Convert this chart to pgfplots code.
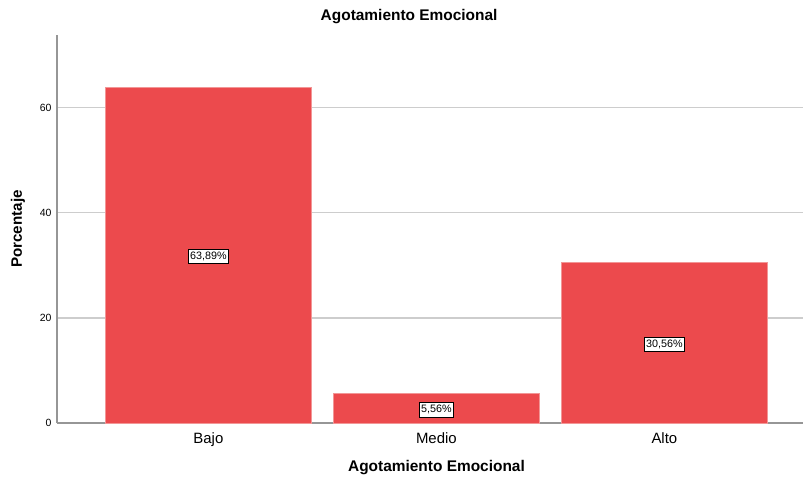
\documentclass[border=0pt]{standalone}
\usepackage{pgfplots}
\usepackage{pgfplotstable}
\pgfplotsset{compat=1.18}
\usepackage{fontspec}
\setmainfont{Liberation Sans}

\definecolor{barred}{RGB}{236,74,77}
\definecolor{baredge}{RGB}{242,150,150}
\definecolor{gridgray}{RGB}{205,205,205}
\definecolor{axisgray}{RGB}{150,150,150}

\pgfplotstableread{
x  y      lbl
0  63.89  {63,89\%}
1  5.56   {5,56\%}
2  30.56  {30,56\%}
}\agotamiento

\begin{document}
\begin{tikzpicture}
\begin{axis}[
  scale only axis,
  width=746bp, height=388bp,
  xmin=-0.664, xmax=2.608,
  ymin=0, ymax=73.8,
  axis x line*=bottom, axis y line*=left,
  axis line style={axisgray, line width=1.1bp, -},
  xtick={0,1,2}, xticklabels={Bajo,Medio,Alto},
  ytick={0,20,40,60},
  major tick length=0pt,
  ymajorgrids, grid style={gridgray, line width=1.3bp},
  xticklabel style={font=\fontsize{15}{18}\selectfont, yshift=-6bp},
  yticklabel style={font=\fontsize{10.5}{12}\selectfont, xshift=-2bp},
  /pgf/number format/assume math mode=true,
  title={Agotamiento Emocional},
  title style={font=\bfseries\fontsize{15.5}{18}\selectfont, at={(axis description cs:0.472,1.031)}, anchor=center},
  xlabel={Agotamiento Emocional},
  xlabel style={font=\bfseries\fontsize{15.5}{18}\selectfont, at={(axis description cs:0.5087,-0.116)}, anchor=center},
  ylabel={Porcentaje},
  ylabel style={font=\bfseries\fontsize{15.2}{18}\selectfont, at={(axis description cs:-0.0523,0.5)}, anchor=center},
]
\addplot[ybar, bar width=0.9, fill=barred, draw=baredge, line width=0.6bp] table[x=x, y=y] {\agotamiento};
% value labels at half the bar height
\addplot[only marks, mark=none,
  nodes near coords,
  point meta=explicit symbolic,
  nodes near coords style={font=\fontsize{10.8}{12}\selectfont, fill=white, draw=black, line width=0.7bp, inner xsep=2.2bp, inner ysep=2.6bp, anchor=center, yshift=-1.5bp},
] table[x=x, y expr=\thisrow{y}/2, meta=lbl] {\agotamiento};
\end{axis}
\pgfresetboundingbox
\useasboundingbox (-57bp,-54bp) rectangle (746bp,423bp);
\end{tikzpicture}
\end{document}
